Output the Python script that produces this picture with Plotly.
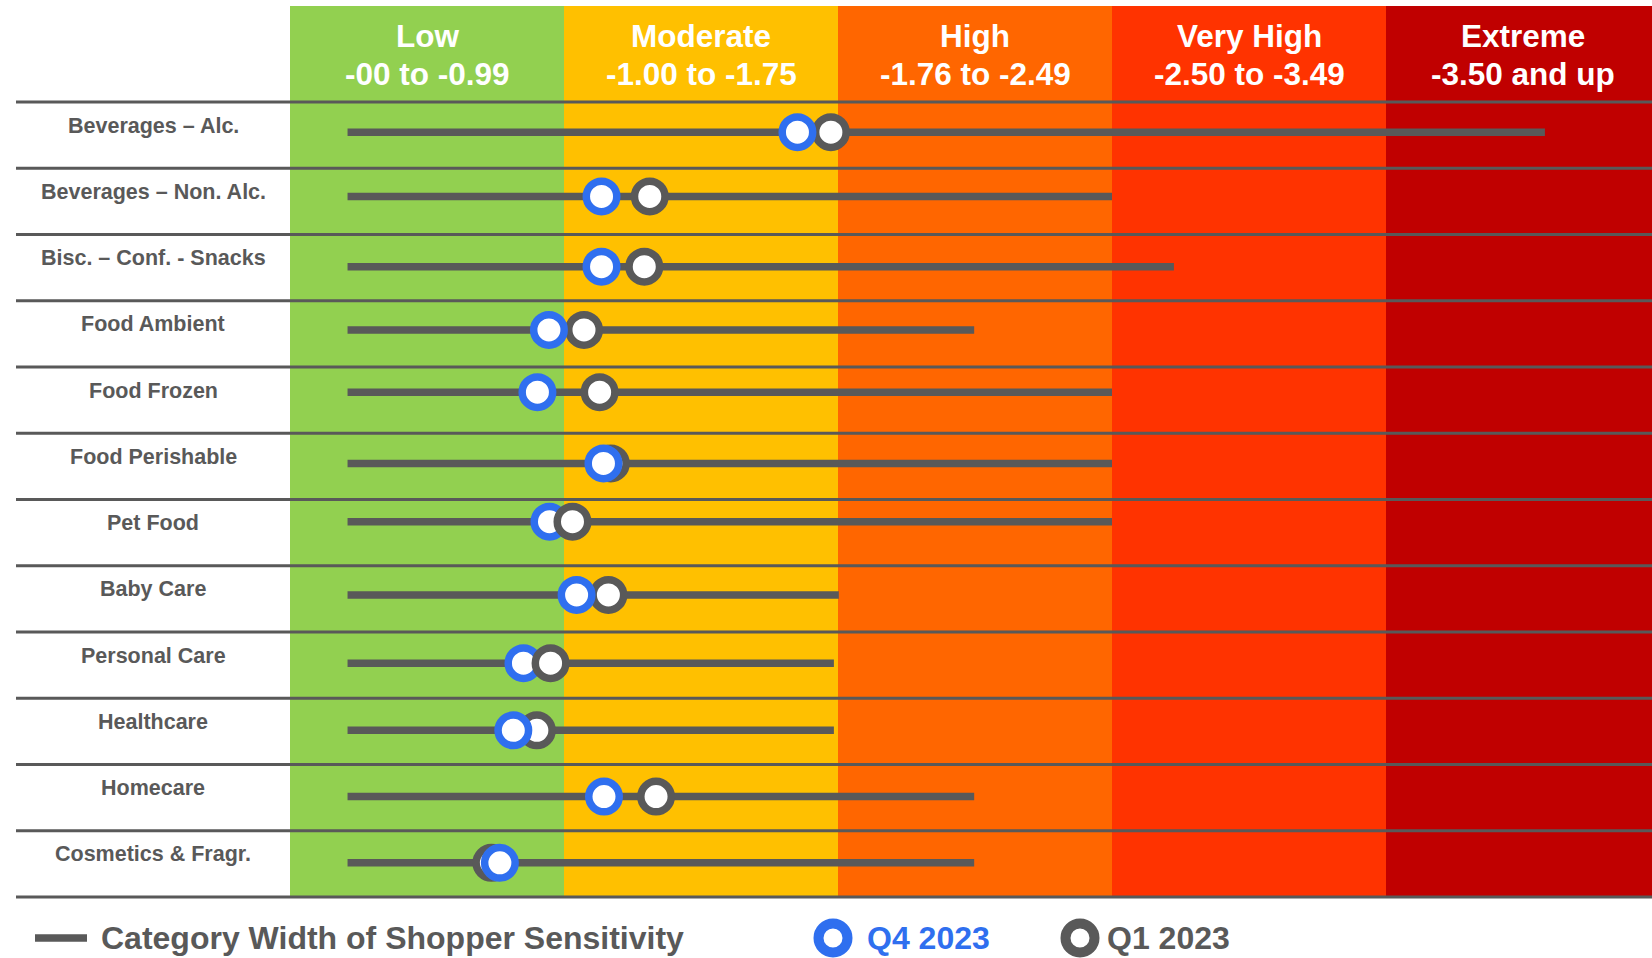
import plotly.graph_objects as go

# ---- data -------------------------------------------------------------
categories = [
    "Beverages – Alc.",
    "Beverages – Non. Alc.",
    "Bisc. – Conf. - Snacks",
    "Food Ambient",
    "Food Frozen",
    "Food Perishable",
    "Pet Food",
    "Baby Care",
    "Personal Care",
    "Healthcare",
    "Homecare",
    "Cosmetics & Fragr.",
]

# Position on the sensitivity scale: each band spans one unit
# (0-1 Low, 1-2 Moderate, 2-3 High, 3-4 Very High, 4-5 Extreme)
range_low = [0.21, 0.21, 0.21, 0.21, 0.21, 0.21, 0.21, 0.21, 0.21, 0.21, 0.21, 0.21]
range_high = [4.58, 3.00, 3.226, 2.497, 3.00, 3.00, 3.00, 2.003, 1.985, 1.985, 2.497, 2.497]
q4_2023 = [1.852, 1.137, 1.137, 0.945, 0.903, 1.144, 0.947, 1.046, 0.852, 0.815, 1.146, 0.766]
q1_2023 = [1.974, 1.313, 1.293, 1.073, 1.130, 1.171, 1.031, 1.162, 0.951, 0.901, 1.336, 0.735]

band_names = ["Low", "Moderate", "High", "Very High", "Extreme"]
band_ranges = ["-00 to -0.99", "-1.00 to -1.75", "-1.76 to -2.49", "-2.50 to -3.49", "-3.50 and up"]

legend_range = "Category Width of Shopper Sensitivity"
legend_q4 = "Q4 2023"
legend_q1 = "Q1 2023"

# ---- styling ------------------------------------------------------------
band_colors = ["#92D050", "#FFC000", "#FF6600", "#FF3300", "#C00000"]
GRAY = "#595959"
BLUE = "#2F6FEF"
FONT = "Liberation Sans, Arial, sans-serif"
W, H = 1652, 958
ROW_TOP, ROW_BOTTOM = 102, 897          # pixel extent of the category rows
row_px = (ROW_BOTTOM - ROW_TOP) / len(categories)

# how far each row's bar sits above the middle of its row (pixels)
row_lift_px = [3, 5, 1, 4, 8, 3, 11, 4, 2, 1, 1, 1]

# rows where the Q1 ring sits on top of the Q4 ring
q1_in_front = {"Pet Food", "Personal Care"}

row_pos = {cat: i - lift / row_px for i, (cat, lift) in enumerate(zip(categories, row_lift_px))}

fig = go.Figure()

# range bars
xs, ys = [], []
for cat, lo, hi in zip(categories, range_low, range_high):
    xs += [lo, hi, None]
    ys += [row_pos[cat], row_pos[cat], None]
fig.add_trace(go.Scatter(
    x=xs, y=ys, mode="lines",
    line=dict(color=GRAY, width=7.5),
    hoverinfo="skip", showlegend=False,
))

# quarter rings, drawn row by row so overlaps stack correctly
for cat, a, b in zip(categories, q4_2023, q1_2023):
    pts = [(b, GRAY, legend_q1), (a, BLUE, legend_q4)]
    if cat in q1_in_front:
        pts = pts[::-1]
    fig.add_trace(go.Scatter(
        x=[p[0] for p in pts], y=[row_pos[cat], row_pos[cat]], mode="markers",
        marker=dict(size=30.5, color="white",
                    line=dict(color=[p[1] for p in pts], width=7.5)),
        text=[p[2] for p in pts],
        hovertemplate=cat + "<br>%{text}: %{x}<extra></extra>",
        showlegend=False,
    ))

shapes = []
# sensitivity bands
for i, col in enumerate(band_colors):
    shapes.append(dict(
        type="rect", layer="below", xref="x", yref="paper",
        x0=i, x1=i + 1, y0=1 - ROW_BOTTOM / H, y1=1 - 6 / H,
        fillcolor=col, line=dict(width=0),
    ))
# row separators
for k in range(len(categories) + 1):
    shapes.append(dict(
        type="line", layer="below", xref="paper", yref="y",
        x0=16 / W, x1=1, y0=k - 0.5, y1=k - 0.5,
        line=dict(color=GRAY, width=3),
    ))

# legend swatches
legend_y = 1 - 938 / H
shapes.append(dict(type="line", xref="paper", yref="paper",
                   x0=35 / W, x1=87 / W, y0=legend_y, y1=legend_y,
                   line=dict(color=GRAY, width=7.5)))
for cx, col in [(833, BLUE), (1080, GRAY)]:
    r = 14.5
    shapes.append(dict(type="circle", xref="paper", yref="paper",
                       x0=(cx - r) / W, x1=(cx + r) / W,
                       y0=legend_y - r / H, y1=legend_y + r / H,
                       fillcolor="white", line=dict(color=col, width=10)))

annotations = []
# band headers
for i, (name, rng) in enumerate(zip(band_names, band_ranges)):
    for text, py in [(name, 36), (rng, 74)]:
        annotations.append(dict(
            x=i + 0.5, xref="x", y=1 - py / H, yref="paper",
            text=text, showarrow=False, xanchor="center", yanchor="middle",
            font=dict(family=FONT, size=31.5, color="white", weight="bold"),
        ))
# category labels
for i, cat in enumerate(categories):
    annotations.append(dict(
        x=153 / W, xref="paper", y=i, yref="y", yshift=9.5,
        text=cat, showarrow=False, xanchor="center", yanchor="middle",
        font=dict(family=FONT, size=21.5, color=GRAY, weight="bold"),
    ))
# legend labels
for text, px, col in [(legend_range, 99, GRAY), (legend_q4, 865, BLUE), (legend_q1, 1105, GRAY)]:
    annotations.append(dict(
        x=px / W, xref="paper", y=legend_y, yref="paper",
        text=text, showarrow=False, xanchor="left", yanchor="middle",
        font=dict(family=FONT, size=32, color=col, weight="bold"),
    ))

y_top = -ROW_TOP / row_px - 0.5
y_bottom = (H - ROW_TOP) / row_px - 0.5

fig.update_layout(
    width=W, height=H,
    margin=dict(l=0, r=0, t=0, b=0),
    paper_bgcolor="white", plot_bgcolor="white",
    xaxis=dict(range=[-290 / 274, (W - 290) / 274], visible=False, fixedrange=True),
    yaxis=dict(range=[y_bottom, y_top], visible=False, fixedrange=True),
    shapes=shapes, annotations=annotations,
    showlegend=False,
)

fig.write_html("out.html")
